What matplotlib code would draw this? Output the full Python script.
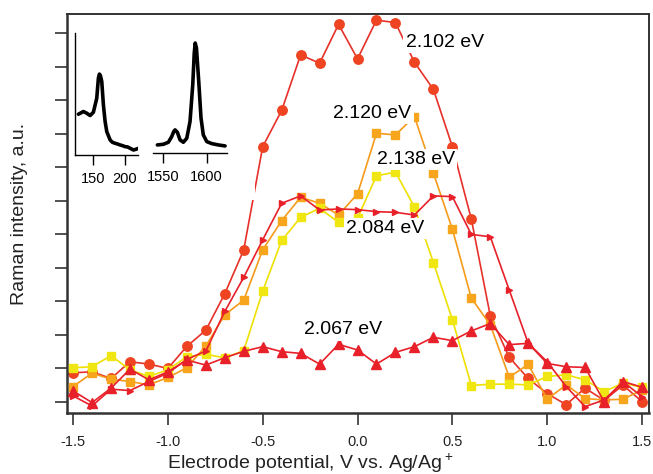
import numpy as np
import matplotlib
matplotlib.use("Agg")
import matplotlib.pyplot as plt
from matplotlib.patches import Rectangle

plt.rcParams['font.family'] = ['Liberation Sans', 'DejaVu Sans']
plt.rcParams['mathtext.default'] = 'regular'
plt.rcParams['axes.unicode_minus'] = False

# electrode potential (V vs. Ag/Ag+)
potential = [-1.5, -1.4, -1.3, -1.2, -1.1, -1.0, -0.9, -0.8, -0.7, -0.6, -0.5,
             -0.4, -0.3, -0.2, -0.1, 0.0, 0.1, 0.2, 0.3, 0.4, 0.5,
             0.6, 0.7, 0.8, 0.9, 1.0, 1.1, 1.2, 1.3, 1.4, 1.5]

# Raman intensity (a.u.) for each excitation energy
i_2102 = [0.87, 0.90, 0.70, 1.20, 1.13, 1.00, 1.66, 2.14, 3.23, 4.54, 7.62,
          8.70, 10.36, 10.11, 11.27, 10.24, 11.40, 11.32, 10.14, 9.33, 7.62,
          5.46, 2.57, 1.33, 0.70, 0.25, -0.08, 0.41, 0.05, 0.50, 0.01]
i_2120 = [0.46, 0.86, 0.68, 0.61, 0.51, 0.73, 1.02, 1.67, 2.60, 3.04, 4.54,
          5.41, 6.11, 5.93, 5.58, 6.21, 8.02, 7.97, 8.52, 6.83, 5.16,
          3.10, 2.30, 0.74, 1.12, 0.08, 0.51, 0.10, 0.06, 0.08, 0.36]
i_2138 = [1.02, 1.05, 1.38, 0.96, 0.76, 0.96, 1.35, 1.42, 1.32, 1.53, 3.31,
          4.82, 5.51, 5.78, 5.36, 5.49, 6.75, 6.86, 5.82, 4.16, 2.46,
          0.49, 0.53, 0.53, 0.51, 0.76, 0.81, 0.66, 0.31, 0.56, 0.44]
i_2084 = [0.18, -0.12, 0.38, 0.34, 0.61, 0.86, 1.27, 1.52, 2.70, 3.72, 4.84,
          5.93, 6.15, 5.73, 5.76, 5.74, 5.68, 5.66, 5.58, 6.15, 6.13,
          5.00, 4.93, 3.34, 1.75, 1.20, 0.46, -0.14, 0.06, 0.60, 0.16]
i_2067 = [0.33, -0.02, 0.41, 0.98, 0.66, 0.90, 1.25, 1.10, 1.32, 1.51, 1.65,
          1.50, 1.45, 1.13, 1.72, 1.55, 1.13, 1.48, 1.65, 1.93, 1.83,
          2.12, 2.34, 1.71, 1.75, 1.15, 1.05, 1.03, 0.01, 0.61, 0.44]

# inset spectra: low-frequency band and G band
rbm_shift = [126.3, 134.2, 139.5, 144.8, 150.0, 155.3, 157.9, 159.5, 161.0, 163.2,
             165.8, 168.5, 171.1, 176.4, 180.0, 184.3, 188.0, 192.2, 196.0, 200.0,
             204.0, 208.0, 213.2, 217.0, 221.0]
rbm_int = [1.22, 1.30, 1.25, 1.18, 1.28, 1.70, 2.30, 2.42, 2.38, 2.20,
           1.50, 1.00, 0.70, 0.45, 0.38, 0.35, 0.33, 0.30, 0.28, 0.25,
           0.24, 0.20, 0.15, 0.17, 0.20]
g_shift = [1543.9, 1550.8, 1556.4, 1560.2, 1562.5, 1564.0, 1566.6, 1569.7, 1573.4,
           1577.3, 1581.0, 1584.1, 1585.8, 1586.9, 1588.3, 1590.9, 1593.5, 1596.1,
           1600.0, 1605.7, 1613.2, 1620.8]
g_int = [0.25, 0.27, 0.33, 0.50, 0.65, 0.70, 0.63, 0.40, 0.33,
         0.45, 0.95, 2.05, 3.00, 3.30, 3.15, 2.15, 1.05, 0.55,
         0.35, 0.29, 0.25, 0.22]

series = [
    (i_2102, 'o', '#ee4422', '#e8302a', 6.8),
    (i_2120, 's', '#f8a51e', '#f59a1a', 6.0),
    (i_2138, 's', '#f0e612', '#eee000', 6.0),
    (i_2084, '>', '#e8202a', '#e8202a', 4.5),
    (i_2067, '^', '#e8202a', '#e8202a', 7.0),
]

labels = [
    ('2.102 eV', 0.253, 10.73),
    ('2.120 eV', -0.127, 8.62),
    ('2.138 eV', 0.102, 7.24),
    ('2.084 eV', -0.060, 5.18),
    ('2.067 eV', -0.280, 2.15),
]

fig = plt.figure(figsize=(6.53, 4.74), dpi=100)
ax = fig.add_axes([0.1026, 0.1287, 0.8913, 0.8418])

for k, (vals, mk, fc, lc, ms) in enumerate(series):
    ax.plot(potential, vals, color=lc, lw=1.2, marker=mk, ms=ms,
            mfc=fc, mec=fc, zorder=2 + k)

for txt, x, y in labels:
    ax.text(x, y, txt, fontsize=14, ha='left', va='center', zorder=10,
            bbox=dict(facecolor='white', edgecolor='none', pad=1.5))

ax.set_xlim(-1.532, 1.537)
ax.set_ylim(-0.33, 11.58)
ax.set_xticks([-1.5, -1.0, -0.5, 0.0, 0.5, 1.0, 1.5])
ax.set_xticklabels(['-1.5', '-1.0', '-0.5', '0.0', '0.5', '1.0', '1.5'])
ax.set_yticks(range(12))
ax.set_yticklabels([])
ax.tick_params(direction='out', length=8.6, width=1.2, color='#333333',
               labelsize=10.5, pad=7, labelcolor='#222222')
for side in ['left', 'bottom']:
    ax.spines[side].set_linewidth(1.8)
for side in ['top', 'right']:
    ax.spines[side].set_linewidth(1.4)
for sp in ax.spines.values():
    sp.set_color('#333333')

fig.text(0.4747, 0.0105, 'Electrode potential, V vs. Ag/Ag$^+$', fontsize=14,
         ha='center', va='baseline', color='#222222')
fig.text(0.030, 0.5496, 'Raman intensity, a.u.', fontsize=14, rotation=90,
         ha='center', va='center', color='#222222')

# white panel behind the inset spectra
fig.patches.append(Rectangle((0.1072, 0.578), 0.2832, 0.385, transform=fig.transFigure,
                             facecolor='white', edgecolor='none', zorder=1))

ins1 = fig.add_axes([0.1149, 0.673, 0.0965, 0.2574], zorder=3)
ins1.plot(rbm_shift, rbm_int, color='black', lw=2.6, solid_joinstyle='round',
          solid_capstyle='round')
ins1.set_xlim(121, 220.5)
ins1.set_ylim(0, 3.65)
ins1.set_xticks([150, 200])
ins1.set_yticks([])
ins1.spines['top'].set_visible(False)
ins1.spines['right'].set_visible(False)
ins1.spines['left'].set_linewidth(1.0)
ins1.spines['bottom'].set_linewidth(1.0)
ins1.tick_params(direction='out', length=7, width=1.0, labelsize=10.5, pad=5)
ins1.patch.set_alpha(0)

ins2 = fig.add_axes([0.2348, 0.6766, 0.1124, 0.2538], zorder=3)
ins2.plot(g_shift, g_int, color='black', lw=2.6, solid_joinstyle='round',
          solid_capstyle='round')
ins2.set_xlim(1539.3, 1622.7)
ins2.set_ylim(0, 3.6)
ins2.set_xticks([1550, 1600])
ins2.set_yticks([])
for side in ['top', 'right', 'left']:
    ins2.spines[side].set_visible(False)
ins2.spines['bottom'].set_linewidth(1.0)
ins2.tick_params(direction='out', length=7, width=1.0, labelsize=10.5, pad=5)
ins2.patch.set_alpha(0)

fig.savefig('out.png', dpi=100)
